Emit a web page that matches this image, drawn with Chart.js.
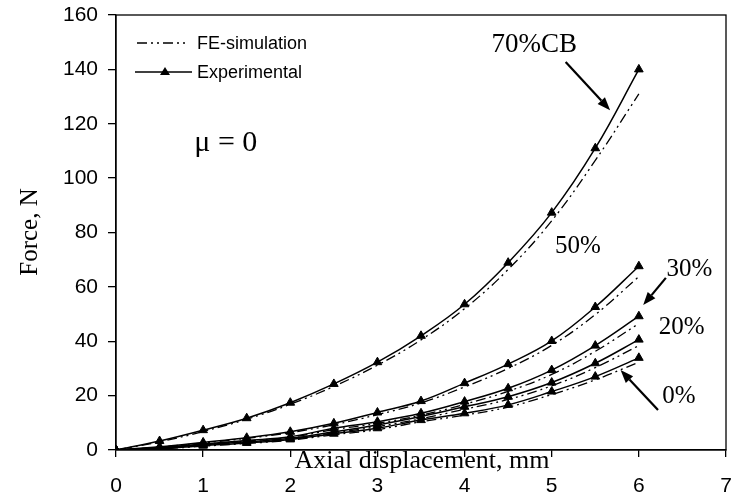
<!DOCTYPE html>
<html><head><meta charset="utf-8">
<script src="https://cdn.jsdelivr.net/npm/chart.js@4"></script>
<style>html,body{margin:0;padding:0;background:#fff}#wrap{width:732px;height:496px}</style>
</head><body><div id="wrap"><canvas id="c" width="732" height="496"></canvas></div>
<script>
const xs = [0,0.5,1,1.5,2,2.5,3,3.5,4,4.5,5,5.5,6];
const exp70 = [0,3.3,7.3,11.7,17.4,24.3,32.3,42.0,53.6,68.9,87.3,111,140];
const exp50 = [0,1.2,2.8,4.5,6.7,9.8,13.8,18.0,24.6,31.6,40.1,52.6,67.6];
const exp30 = [0,0.9,2.2,3.5,4.9,8.0,10.4,13.5,17.8,22.7,29.4,38.4,49.2];
const exp20 = [0,0.7,1.9,3.0,4.3,6.7,9.2,12.3,15.9,19.6,24.8,31.9,40.6];
const exp0  = [0,0.5,1.6,2.6,3.9,6.0,8.0,11.0,13.5,16.6,21.5,27.0,33.9];
const fe70 = [0,3.0,6.8,11.3,16.8,23.4,31.2,40.5,52.0,66.4,84.3,106.5,131];
const fe50 = [0,1.1,2.6,4.3,6.4,9.3,13.0,17.3,23.2,30.0,38.5,49.8,63.8];
const fe30 = [0,0.8,2.0,3.3,4.7,7.5,9.8,12.8,16.8,21.6,27.8,36.3,46.5];
const fe20 = [0,0.6,1.7,2.8,4.0,6.3,8.6,11.5,15.0,18.6,23.6,30.3,38.4];
const fe0  = [0,0.4,1.4,2.4,3.6,5.6,7.5,10.4,12.8,15.8,20.4,25.8,32.3];
const xTicks = [0,1,2,3,4,5,6,7];
const yTicks = [0,20,40,60,80,100,120,140,160];
const seriesNames = ['FE-simulation','Experimental'];
const curveLabels = ['70%CB','50%','30%','20%','0%'];
const labelPos = [[4.80,149],[5.30,75],[6.58,66.5],[6.49,44.9],[6.46,19.8]];
const arrows = [[[5.16,142.7],[5.67,125]],[[6.31,63.3],[6.05,53.3]],[[6.22,14.7],[5.79,29.4]]];
const muText = 'μ = 0';
const muPos = [1.26,113];
const xTitle = 'Axial displacement, mm';
const yTitle = 'Force, N';

const pts = a => a.map((v,i)=>({x:xs[i],y:v}));
const feDash = [10,4,2,4,2,4];
const datasets = [];
[fe70,fe50,fe30,fe20,fe0].forEach(d=>datasets.push({data:pts(d),borderColor:'#000',borderWidth:1.3,borderDash:feDash,pointRadius:0,tension:0.4,fill:false}));
[exp70,exp50,exp30,exp20,exp0].forEach(d=>datasets.push({data:pts(d),borderColor:'#000',backgroundColor:'#000',borderWidth:1.5,pointStyle:'triangle',pointRadius:5,pointBorderWidth:1,tension:0.4,fill:false}));

const SERIF = '"Liberation Serif", "Times New Roman", serif';
const SANS = '"Liberation Sans", Arial, sans-serif';

const deco = {
  id:'deco',
  afterDraw(chart){
    const ctx = chart.ctx, a = chart.chartArea, xs_ = chart.scales.x, ys_ = chart.scales.y;
    ctx.save();
    ctx.strokeStyle='#000'; ctx.lineWidth=1.3;
    ctx.strokeRect(a.left, a.top, a.right-a.left, a.bottom-a.top);
    // legend
    ctx.lineWidth=1.3; ctx.setLineDash(feDash);
    ctx.beginPath(); ctx.moveTo(137,43); ctx.lineTo(187,43); ctx.stroke();
    ctx.setLineDash([]); ctx.lineWidth=1.5;
    ctx.beginPath(); ctx.moveTo(135,72); ctx.lineTo(192,72); ctx.stroke();
    ctx.fillStyle='#000';
    ctx.beginPath(); ctx.moveTo(165,67); ctx.lineTo(170,75); ctx.lineTo(160,75); ctx.closePath(); ctx.fill();
    ctx.font='18px '+SANS; ctx.textAlign='left'; ctx.textBaseline='middle';
    ctx.fillText(seriesNames[0],197,44);
    ctx.fillText(seriesNames[1],197,73);
    // labels
    ctx.textAlign='center'; ctx.textBaseline='middle';
    curveLabels.forEach((t,i)=>{
      ctx.font=(i===0?'27px ':'25px ')+SERIF;
      ctx.fillText(t, xs_.getPixelForValue(labelPos[i][0]), ys_.getPixelForValue(labelPos[i][1]));
    });
    ctx.font='30px '+SERIF;
    ctx.fillText(muText, xs_.getPixelForValue(muPos[0]), ys_.getPixelForValue(muPos[1]));
    // arrows
    ctx.lineWidth=2.2;
    arrows.forEach(([p0,p1])=>{
      const x0=xs_.getPixelForValue(p0[0]), y0=ys_.getPixelForValue(p0[1]);
      const x1=xs_.getPixelForValue(p1[0]), y1=ys_.getPixelForValue(p1[1]);
      const ang=Math.atan2(y1-y0,x1-x0), L=13, W=5;
      const bx=x1-L*Math.cos(ang), by=y1-L*Math.sin(ang);
      ctx.beginPath(); ctx.moveTo(x0,y0); ctx.lineTo(bx,by); ctx.stroke();
      ctx.beginPath(); ctx.moveTo(x1,y1);
      ctx.lineTo(bx+W*Math.sin(ang), by-W*Math.cos(ang));
      ctx.lineTo(bx-W*Math.sin(ang), by+W*Math.cos(ang));
      ctx.closePath(); ctx.fill();
    });
    // axis titles
    ctx.font='26px '+SERIF; ctx.textAlign='center'; ctx.textBaseline='middle';
    ctx.fillText(xTitle, 422, 461);
    ctx.font='25px '+SERIF;
    ctx.translate(30,232); ctx.rotate(-Math.PI/2);
    ctx.fillText(yTitle,0,0);
    ctx.restore();
  }
};

new Chart(document.getElementById('c'), {
  type:'line',
  data:{datasets},
  options:{
    responsive:false, animation:false, devicePixelRatio:1,
    layout:{padding:{left:0,right:4,top:15,bottom:0}},
    plugins:{legend:{display:false},tooltip:{enabled:false}},
    scales:{
      x:{type:'linear',min:0,max:7,
        afterBuildTicks(s){s.ticks=xTicks.map(v=>({value:v}));},
        afterFit(s){s.height=46; s.paddingLeft=0; s.paddingRight=0;},
        grid:{drawOnChartArea:false,tickLength:7,color:'#000',lineWidth:1.3},
        border:{color:'#000',width:1.3},
        ticks:{color:'#000',font:{family:SANS,size:21},padding:17,maxRotation:0}},
      y:{type:'linear',min:0,max:160,
        afterBuildTicks(s){s.ticks=yTicks.map(v=>({value:v}));},
        afterFit(s){s.width=116; s.paddingTop=0; s.paddingBottom=0;},
        grid:{drawOnChartArea:false,tickLength:8,color:'#000',lineWidth:1.3},
        border:{color:'#000',width:1.3},
        ticks:{color:'#000',font:{family:SANS,size:21},padding:10}}
    }
  },
  plugins:[deco]
});
</script></body></html>
